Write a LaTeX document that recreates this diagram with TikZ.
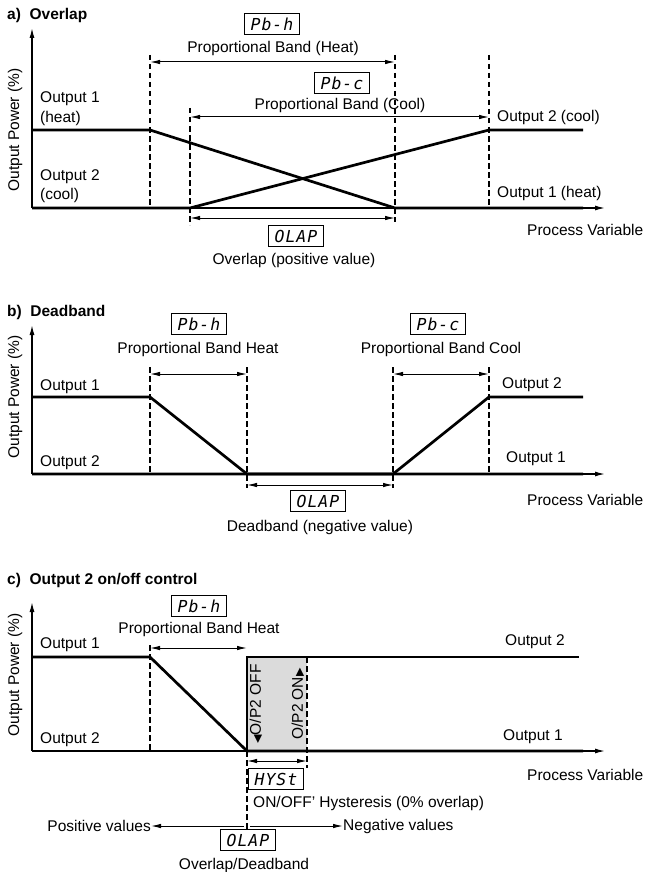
\documentclass[tikz,border=0pt]{standalone}
\usepackage{fontspec}
\setmainfont{Liberation Sans}
\newfontfamily\segfont[LetterSpace=6]{DejaVu Sans Mono}
\newfontfamily\trifont{DejaVu Sans}
\usetikzlibrary{arrows.meta}

\begin{document}
\begin{tikzpicture}
  [x=1pt,y=-1pt,
   every node/.style={inner sep=0pt, font=\fontsize{15.5}{18}\selectfont},
   title/.style={anchor=west, font=\fontsize{15.5}{18}\selectfont\bfseries},
   axis/.style={line width=1.3pt, -{Latex[length=10pt,width=5pt]}},
   output/.style={line width=2.7pt},
   guide/.style={line width=1.1pt, dash pattern=on 5.5pt off 3.5pt},
   dim/.style={line width=1pt, {Latex[length=10pt,width=4.5pt]}-{Latex[length=10pt,width=4.5pt]}},
   oneway/.style={line width=1pt, -{Latex[length=10pt,width=4.5pt]}},
   display/.style={draw, line width=1.3pt, minimum width=55pt, minimum height=21pt,
                   font=\fontsize{16.5}{18}\segfont\itshape}]
  \useasboundingbox (0,0) rectangle (648,872);

  % a) overlap
  \node[title] (a-title) at (7,15) {a)\ \ Overlap};
  \draw[axis] (32,208) -- (32,28);
  \draw[axis] (32,208) -- (605,208);
  \node[rotate=90] (a-ylabel) at (15,130) {Output Power (\%)};
  \draw[guide] (150,55) -- (150,208);
  \draw[guide] (190,108) -- (190,225);
  \draw[guide] (395,55) -- (395,222);
  \draw[guide] (489,55) -- (489,208);
  \draw[output] (32,130) -- (150,130) -- (395,208) -- (583,208);
  \draw[output] (32,208) -- (190,208) -- (489,130) -- (583,130);
  \draw[dim] (150,62) -- (395,62);
  \draw[dim] (190,117) -- (489,117);
  \draw[dim] (190,218) -- (395,218);
  \node[display] (a-pbh) at (272,24) {Pb-h};
  \node (a-pbh-txt) at (273,48) {Proportional Band (Heat)};
  \node[display] (a-pbc) at (342,83) {Pb-c};
  \node (a-pbc-txt) at (340,105) {Proportional Band (Cool)};
  \node[display] (a-olap) at (296,236) {OLAP};
  \node (a-olap-txt) at (294,260) {Overlap (positive value)};
  \node[anchor=west] (a-out1) at (40,99) {Output 1};
  \node[anchor=west] (a-heat) at (40,118) {(heat)};
  \node[anchor=west] (a-out2) at (40,177) {Output 2};
  \node[anchor=west] (a-cool) at (40,195) {(cool)};
  \node[anchor=west] (a-out2r) at (497,117) {Output 2 (cool)};
  \node[anchor=west] (a-out1r) at (497,193) {Output 1 (heat)};
  \node[anchor=west] (a-pv) at (527,230) {Process Variable};

  % b) deadband
  \node[title] (b-title) at (7,312) {b)\ \ Deadband};
  \draw[axis] (32,474) -- (32,325);
  \draw[axis] (32,474) -- (605,474);
  \node[rotate=90] (b-ylabel) at (15,397) {Output Power (\%)};
  \draw[guide] (150,367) -- (150,474);
  \draw[guide] (247,367) -- (247,488);
  \draw[guide] (393,367) -- (393,488);
  \draw[guide] (489,367) -- (489,474);
  \draw[output] (32,397) -- (150,397) -- (247,474) -- (583,474);
  \draw[output] (32,474) -- (393,474) -- (489,397) -- (583,397);
  \draw[dim] (150,374) -- (247,374);
  \draw[dim] (393,374) -- (489,374);
  \draw[dim] (247,485) -- (393,485);
  \node[display] (b-pbh) at (199,324) {Pb-h};
  \node (b-pbh-txt) at (198,349) {Proportional Band Heat};
  \node[display] (b-pbc) at (438,324) {Pb-c};
  \node (b-pbc-txt) at (441,349) {Proportional Band Cool};
  \node[display] (b-olap) at (318,501) {OLAP};
  \node (b-olap-txt) at (320,527) {Deadband (negative value)};
  \node[anchor=west] (b-out1) at (40,387) {Output 1};
  \node[anchor=west] (b-out2) at (40,463) {Output 2};
  \node[anchor=west] (b-out2r) at (502,385) {Output 2};
  \node[anchor=west] (b-out1r) at (506,459) {Output 1};
  \node[anchor=west] (b-pv) at (527,500) {Process Variable};

  % c) output 2 on/off
  \node[title] (c-title) at (7,580) {c)\ \ Output 2 on/off control};
  \fill[gray!28] (247,657) rectangle (307,751);
  \draw[axis] (32,751) -- (32,602);
  \draw[axis] (32,751) -- (605,751);
  \node[rotate=90] (c-ylabel) at (15,675) {Output Power (\%)};
  \draw[guide] (150,645) -- (150,751);
  \draw[guide] (307,657) -- (307,768);
  \draw[guide] (247,751) -- (247,830);
  \draw[output] (32,657) -- (150,657) -- (247,751) -- (583,751);
  \draw[output] (32,751) -- (247,751) -- (247,657) -- (579,657);
  \draw[dim] (150,648) -- (247,648);
  \draw[dim] (247,761) -- (307,761);
  \node[rotate=90] (c-off) at (256,704) {{\trifont\fontsize{11}{12}\selectfont ◀}O/P2 OFF};
  \node[rotate=90] (c-on) at (298,704) {O/P2 ON{\trifont\fontsize{11}{12}\selectfont ▶}};
  \node[display] (c-pbh) at (199,606) {Pb-h};
  \node (c-pbh-txt) at (199,629) {Proportional Band Heat};
  \node[display] (c-hyst) at (276,779) {HYSt};
  \node[anchor=west] (c-hyst-txt) at (253,803) {ON/OFF' Hysteresis (0\% overlap)};
  \node[anchor=east] (c-pos) at (151,826) {Positive values};
  \node[anchor=west] (c-neg) at (343,826) {Negative values};
  \coordinate (c-split) at (247,826);
  \draw[oneway] (c-split) ++(-3,0) -- (c-pos.east);
  \draw[oneway] (c-split) ++(3,0) -- (c-neg.west);
  \node[display, fill=white] (c-olap) at (248,840) {OLAP};
  \node (c-olap-txt) at (244,865) {Overlap/Deadband};
  \node[anchor=west] (c-out1) at (40,645) {Output 1};
  \node[anchor=west] (c-out2) at (40,740) {Output 2};
  \node[anchor=west] (c-out2r) at (505,642) {Output 2};
  \node[anchor=west] (c-out1r) at (503,737) {Output 1};
  \node[anchor=west] (c-pv) at (527,775) {Process Variable};
\end{tikzpicture}
\end{document}
